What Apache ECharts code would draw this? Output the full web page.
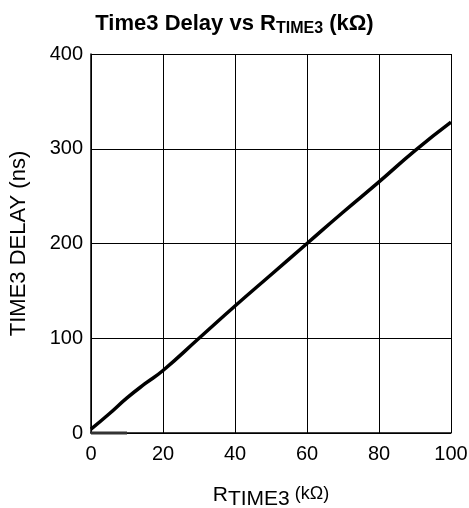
<!DOCTYPE html>
<html>
<head>
<meta charset="utf-8">
<script src="https://cdn.jsdelivr.net/npm/echarts@6/dist/echarts.min.js"></script>
<style>html,body{margin:0;padding:0;background:#fff;}#c{width:469px;height:508px;}</style>
</head>
<body>
<div id="c"></div>
<script>
var rTime3 = [0, 5, 10, 15, 20, 30, 40, 50, 60, 70, 80, 90, 100];
var delayNs = [4, 20, 37, 52, 66, 100, 134, 167, 200, 233, 265, 298, 328];
var baseSegX = [0, 10];
var baseSegY = [0, 0];
var xTicks = [0, 20, 40, 60, 80, 100];
var yTicks = [0, 100, 200, 300, 400];

var font = '"Liberation Sans", Arial, sans-serif';
var chart = echarts.init(document.getElementById('c'));
chart.setOption({
  animation: false,
  backgroundColor: '#fff',
  title: {
    text: '{t|Time3 Delay vs R}{s|TIME3}{t| (kΩ)}',
    left: 'center', top: 6,
    textStyle: {
      rich: {
        t: {fontFamily: font, fontSize: 22, fontWeight: 'bold', color: '#000'},
        s: {fontFamily: font, fontSize: 16, fontWeight: 'bold', color: '#000', padding: [10, 0, 0, 0]}
      }
    }
  },
  grid: {left: 91, right: 18, top: 54, bottom: 75, outerBoundsMode: 'none', containLabel: false},
  xAxis: {
    type: 'value', min: 0, max: 100, interval: 20,
    name: '{r|R}{s|TIME3}{k| (kΩ)}',
    nameLocation: 'middle', nameGap: 48,
    nameTextStyle: {
      rich: {
        r: {fontFamily: font, fontSize: 21, color: '#000'},
        s: {fontFamily: font, fontSize: 21, color: '#000', padding: [8, 0, 0, 0]},
        k: {fontFamily: font, fontSize: 18, color: '#000', padding: [0, 0, 3, 0]}
      }
    },
    axisLine: {show: true, lineStyle: {color: '#000', width: 1.5}},
    axisTick: {show: false},
    axisLabel: {fontFamily: font, fontSize: 20, color: '#000', margin: 11,
      formatter: function (v) { return xTicks.indexOf(v) >= 0 ? String(v) : ''; }},
    splitLine: {show: true, lineStyle: {color: '#000', width: 1}}
  },
  yAxis: {
    type: 'value', min: 0, max: 400, interval: 100,
    name: 'TIME3 DELAY (ns)',
    nameLocation: 'middle', nameGap: 61,
    nameTextStyle: {fontFamily: font, fontSize: 22, color: '#000'},
    axisLine: {show: true, lineStyle: {color: '#000', width: 1.5}},
    axisTick: {show: false},
    axisLabel: {fontFamily: font, fontSize: 20, color: '#000', margin: 8,
      formatter: function (v) { return yTicks.indexOf(v) >= 0 ? String(v) : ''; }},
    splitLine: {show: true, lineStyle: {color: '#000', width: 1}}
  },
  series: [
    {
      type: 'line', showSymbol: false, smooth: true, clip: false,
      data: rTime3.map(function (x, i) { return [x, delayNs[i]]; }),
      lineStyle: {color: '#000', width: 3.5}
    },
    {
      type: 'line', showSymbol: false, clip: false,
      data: baseSegX.map(function (x, i) { return [x, baseSegY[i]]; }),
      lineStyle: {color: '#333', width: 3}
    }
  ]
});
</script>
</body>
</html>
